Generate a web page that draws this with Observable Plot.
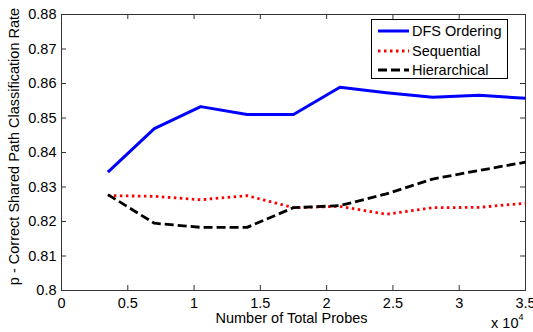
<!DOCTYPE html>
<html>
<head>
<meta charset="utf-8">
<script src="https://cdn.jsdelivr.net/npm/d3@7"></script>
<script src="https://cdn.jsdelivr.net/npm/@observablehq/plot@0.6"></script>
<style>
  html, body { margin: 0; padding: 0; background: white; }
  #wrap { position: relative; width: 533px; height: 332px; overflow: hidden; font-family: "Liberation Sans", Arial, sans-serif; }
  #legend { position: absolute; left: 371px; top: 19px; width: 137px; height: 60px; border: 1px solid #000; background: #fff; box-sizing: border-box; }
  .row { position: absolute; left: 0; height: 18px; display: flex; align-items: center; font-size: 14.5px; color: #000; white-space: nowrap; }
  .row svg { margin-left: 6px; margin-right: 3px; }
</style>
</head>
<body>
<div id="wrap"></div>
<script>
// Data (x in number of total probes)
const probes = [3500, 7000, 10500, 14000, 17500, 21000, 24500, 28000, 31500, 35000];
const dfsOrdering = [0.8343, 0.8469, 0.8533, 0.8510, 0.8510, 0.8589, 0.8573, 0.8560, 0.8566, 0.8557];
const sequential = [0.8275, 0.8273, 0.8263, 0.8275, 0.8240, 0.8244, 0.8221, 0.8240, 0.8241, 0.8253];
const hierarchical = [0.8278, 0.8195, 0.8183, 0.8183, 0.8240, 0.8246, 0.8280, 0.8323, 0.8348, 0.8372];

const seriesNames = ["DFS Ordering", "Sequential", "Hierarchical"];
const seriesValues = [dfsOrdering, sequential, hierarchical];
const seriesColors = ["#0000ff", "#ff0000", "#000000"];
const seriesDash = [null, "2.5,3.5", "9,4"];
const seriesWidth = [3, 2.8, 2.8];

const xTicks = [0, 5000, 10000, 15000, 20000, 25000, 30000, 35000];
const yTicks = [0.80, 0.81, 0.82, 0.83, 0.84, 0.85, 0.86, 0.87, 0.88];

const xLabel = "Number of Total Probes";
const yLabel = "p - Correct Shared Path Classification Rate";

const rows = seriesNames.map((name, i) => probes.map((p, j) => ({series: name, x: p, y: seriesValues[i][j]})));

const W = 533, H = 332, mL = 61, mR = 8, mT = 14, mB = 42;
const innerW = W - mL - mR, innerH = H - mT - mB;
const tickLen = 5;
const axisColor = "#333";
const fs = 14.5;

const font = "Liberation Sans, Arial, sans-serif";
const plot = Plot.plot({
  width: W,
  height: H,
  marginLeft: mL,
  marginRight: mR,
  marginTop: mT,
  marginBottom: mB,
  style: {fontFamily: font, fontSize: fs + "px", color: "#000", background: "white"},
  x: {domain: [0, 35000]},
  y: {domain: [0.8, 0.88]},
  marks: [
    // inward tick marks on all four sides
    Plot.gridX(xTicks, {stroke: axisColor, strokeOpacity: 1, insetTop: innerH - tickLen}),
    Plot.gridX(xTicks, {stroke: axisColor, strokeOpacity: 1, insetBottom: innerH - tickLen}),
    Plot.gridY(yTicks, {stroke: axisColor, strokeOpacity: 1, insetRight: innerW - tickLen}),
    Plot.gridY(yTicks, {stroke: axisColor, strokeOpacity: 1, insetLeft: innerW - tickLen}),
    Plot.frame({stroke: axisColor, strokeWidth: 1}),
    // tick labels
    Plot.axisX(xTicks, {anchor: "bottom", tickSize: 0, tickPadding: 7, tickFormat: d => String(d / 1e4), label: null, fontSize: fs}),
    Plot.axisY(yTicks, {anchor: "left", tickSize: 0, tickPadding: 5, tickFormat: d => String(+d.toFixed(2)), label: null, fontSize: fs}),
    // series
    ...rows.map((data, i) => Plot.line(data, {
      x: "x", y: "y",
      stroke: seriesColors[i],
      strokeWidth: seriesWidth[i],
      strokeDasharray: seriesDash[i],
      strokeLinecap: "butt",
      strokeLinejoin: "round"
    })),
    // axis titles
    Plot.text([xLabel], {frameAnchor: "bottom", textAnchor: "middle", dx: -2, dy: 32, lineAnchor: "bottom", fontSize: fs, fill: "#000"}),
    Plot.text([yLabel], {frameAnchor: "left", textAnchor: "middle", lineAnchor: "middle", rotate: -90, dx: -47, dy: -6, fontSize: fs, fill: "#000"}),
    Plot.text(["x 10"], {frameAnchor: "bottom-right", textAnchor: "end", lineAnchor: "bottom", dx: -7, dy: 37, fontSize: fs, fill: "#000"}),
    Plot.text(["4"], {frameAnchor: "bottom-right", textAnchor: "end", lineAnchor: "bottom", dx: -2, dy: 29, fontSize: 9, fill: "#000"})
  ]
});

const wrap = document.getElementById("wrap");
wrap.appendChild(plot);

// legend
const legend = document.createElement("div");
legend.id = "legend";
seriesNames.forEach((name, i) => {
  const row = document.createElement("div");
  row.className = "row";
  row.style.top = (2 + i * 19.5) + "px";
  const svg = `<svg width="31" height="8"><line x1="0" x2="31" y1="4" y2="4" stroke="${seriesColors[i]}" stroke-width="${seriesWidth[i]}" ${seriesDash[i] ? `stroke-dasharray="${seriesDash[i]}"` : ""}/></svg>`;
  row.innerHTML = svg + `<span>${name}</span>`;
  legend.appendChild(row);
});
wrap.appendChild(legend);
</script>
</body>
</html>
